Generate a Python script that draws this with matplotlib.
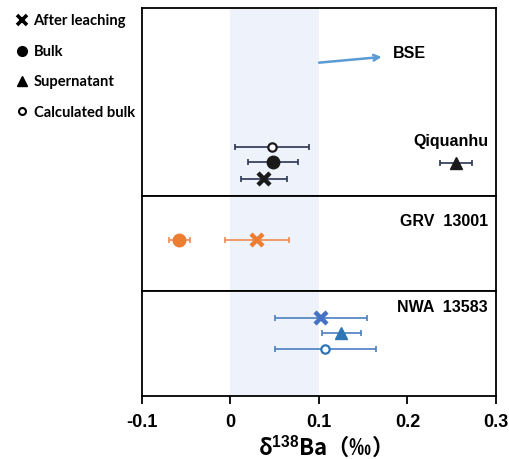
import matplotlib.pyplot as plt
from matplotlib.lines import Line2D

# delta138Ba values (permil) and 2SD
qiq_kind = ['calc', 'bulk', 'leach', 'super']
qiq_x = [0.047, 0.048, 0.038, 0.255]
qiq_err = [0.042, 0.028, 0.026, 0.018]
qiq_y = [0.26, 0.18, 0.092, 0.174]

grv_kind = ['bulk', 'leach']
grv_x = [-0.058, 0.030]
grv_err = [0.012, 0.036]
grv_y = [0.537, 0.537]

nwa_kind = ['leach', 'super', 'calc']
nwa_x = [0.102, 0.125, 0.107]
nwa_err = [0.052, 0.022, 0.057]
nwa_y = [0.746, 0.597, 0.448]

bse_lo, bse_hi = 0.0, 0.1
xticks = [-0.1, 0, 0.1, 0.2, 0.3]
xticklabels = ['-0.1', '0', '0.1', '0.2', '0.3']

legend_names = ['After leaching', 'Bulk', 'Supernatant', 'Calculated bulk']

plt.rcParams['font.family'] = ['Liberation Sans', 'DejaVu Sans']
plt.rcParams['mathtext.fontset'] = 'custom'
plt.rcParams['mathtext.rm'] = 'Liberation Sans:bold'
plt.rcParams['mathtext.bf'] = 'Liberation Sans:bold'

style = {
    'leach': dict(marker='x', ms=9, mew=3.2),
    'bulk': dict(marker='o', ms=9),
    'super': dict(marker='^', ms=9),
    'calc': dict(marker='o', ms=6, mew=1.6, mfc='white'),
}


def draw(ax, kinds, xs, errs, ys, col, ecol):
    for k, x, e, y in zip(kinds, xs, errs, ys):
        st = dict(style[k])
        if isinstance(col, dict):
            c = col.get(k, col['other'])
        else:
            c = col
        ax.errorbar(x, y, xerr=e, fmt='none', ecolor=ecol, elinewidth=1.2,
                    capsize=2.5, capthick=1.2, zorder=2)
        ax.plot(x, y, linestyle='none', color=c, mec=c, zorder=3, **st)


fig = plt.figure(figsize=(5.1, 4.59), dpi=100)
gs = fig.add_gridspec(3, 1, height_ratios=[188, 95, 105], hspace=0,
                      left=0.2784, right=0.9725, top=0.983, bottom=0.1373)
axes = [fig.add_subplot(gs[i]) for i in range(3)]

for ax in axes:
    ax.set_xlim(-0.1, 0.3)
    ax.set_ylim(0, 1)
    ax.axvspan(bse_lo, bse_hi, color='#eef3fb', zorder=0, lw=0)
    ax.set_yticks([])
    for s in ax.spines.values():
        s.set_linewidth(1.3)
    ax.tick_params(axis='x', length=0)
    ax.set_xticks(xticks)
    ax.set_xticklabels([])

draw(axes[0], qiq_kind, qiq_x, qiq_err, qiq_y, '#1a1a1a', '#2b3550')
draw(axes[1], grv_kind, grv_x, grv_err, grv_y, '#ed7d31', '#ed8b55')
draw(axes[2], nwa_kind, nwa_x, nwa_err, nwa_y,
     {'leach': '#4472c4', 'other': '#2e75b6'}, '#4a7fc0')

axes[0].text(0.291, 0.29, 'Qiquanhu', ha='right', va='center',
             fontsize=11.5, fontweight='bold')
axes[1].text(0.291, 0.726, 'GRV  13001', ha='right', va='center',
             fontsize=11.5, fontweight='bold')
axes[2].text(0.291, 0.84, 'NWA  13583', ha='right', va='center',
             fontsize=11.5, fontweight='bold')

axes[0].annotate('', xy=(0.174, 0.74), xytext=(0.097, 0.707),
                 arrowprops=dict(arrowstyle='->', color='#5b9bd5', lw=1.8))
axes[0].text(0.183, 0.755, 'BSE', ha='left', va='center',
             fontsize=11.5, fontweight='bold')

ax = axes[2]
ax.tick_params(axis='x', length=6, width=1.3, direction='out', pad=7)
ax.set_xticklabels(xticklabels, fontsize=13, fontweight='bold')
ax.set_xlabel('δ$^{138}$Ba（‰）', fontsize=16, fontweight='bold',
              family=['Noto Sans CJK SC', 'DejaVu Sans'], labelpad=2)

handles = [
    Line2D([], [], ls='none', marker='x', color='k', ms=7, mew=2.6),
    Line2D([], [], ls='none', marker='o', color='k', ms=7),
    Line2D([], [], ls='none', marker='^', color='k', ms=7),
    Line2D([], [], ls='none', marker='o', color='k', mfc='white', ms=5, mew=1.5),
]
fig.legend(handles, legend_names, loc='upper left', bbox_to_anchor=(0.008, 0.998),
           frameon=False, handlelength=0.6, handletextpad=0.5, labelspacing=1.12,
           prop=dict(family='Lato', weight='bold', size=10.6))

fig.savefig('out.png', dpi=100)
